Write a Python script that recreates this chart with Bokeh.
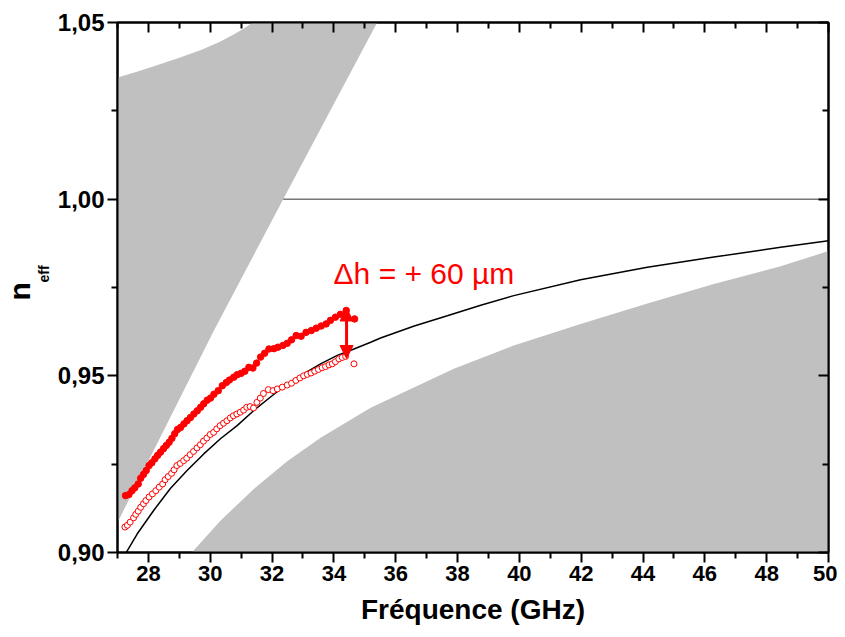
from bokeh.plotting import figure
from bokeh.models import (LinearAxis, FixedTicker, CustomJSTickFormatter, Label, Arrow,
                          NormalHead, Title)
from bokeh.embed import file_html
from bokeh.resources import INLINE

# ---------------- data ----------------
x_ticks = [28, 30, 32, 34, 36, 38, 40, 42, 44, 46, 48, 50]
x_minor = [27, 29, 31, 33, 35, 37, 39, 41, 43, 45, 47, 49]
y_ticks = [0.90, 0.95, 1.00, 1.05]
y_minor = [0.925, 0.975, 1.025]

# measured, h + 60 um (filled)
meas_up_f = [27.26, 27.37, 27.47, 27.56, 27.67, 27.75, 27.84, 27.93, 28.02, 28.11,
             28.21, 28.30, 28.39, 28.49, 28.58, 28.67, 28.76, 28.85, 28.94, 29.04,
             29.15, 29.25, 29.36, 29.47, 29.58, 29.69, 29.79, 29.90, 30.01, 30.12,
             30.26, 30.39, 30.52, 30.62, 30.76, 30.87, 31.00, 31.12, 31.25, 31.38,
             31.50, 31.63, 31.76, 31.90, 32.06, 32.19, 32.35, 32.49, 32.63, 32.78,
             32.94, 33.10, 33.27, 33.43, 33.59, 33.75, 33.89, 34.05, 34.21, 34.40,
             34.67]
meas_up_n = [0.9161, 0.9164, 0.9175, 0.9183, 0.9194, 0.9210, 0.9221, 0.9232, 0.9246, 0.9254,
             0.9265, 0.9275, 0.9284, 0.9294, 0.9303, 0.9312, 0.9323, 0.9336, 0.9348, 0.9354,
             0.9364, 0.9373, 0.9382, 0.9392, 0.9401, 0.9411, 0.9421, 0.9431, 0.9437, 0.9448,
             0.9458, 0.9472, 0.9481, 0.9488, 0.9496, 0.9503, 0.9507, 0.9513, 0.9524, 0.9522,
             0.9536, 0.9553, 0.9564, 0.9576, 0.9577, 0.9581, 0.9586, 0.9592, 0.9602, 0.9614,
             0.9612, 0.9623, 0.9628, 0.9635, 0.9641, 0.9647, 0.9657, 0.9666, 0.9674, 0.9685,
             0.9661]

# measured, reference height (open)
meas_ref_f = [27.24, 27.32, 27.41, 27.52, 27.59, 27.67, 27.75, 27.84, 27.92, 28.02,
              28.13, 28.24, 28.35, 28.46, 28.54, 28.64, 28.75, 28.83, 28.92, 29.03,
              29.14, 29.24, 29.35, 29.46, 29.57, 29.68, 29.78, 29.89, 30.00, 30.11,
              30.21, 30.32, 30.43, 30.54, 30.65, 30.75, 30.86, 30.97, 31.08, 31.18,
              31.29, 31.40, 31.51, 31.62, 31.72, 31.88, 32.03, 32.17, 32.33, 32.49,
              32.63, 32.77, 32.90, 33.02, 33.14, 33.26, 33.38, 33.50, 33.62, 33.73,
              33.84, 33.95, 34.05, 34.16, 34.27, 34.38, 34.65]
meas_ref_n = [0.9072, 0.9077, 0.9086, 0.9098, 0.9108, 0.9117, 0.9128, 0.9138, 0.9147, 0.9157,
              0.9166, 0.9175, 0.9185, 0.9194, 0.9206, 0.9215, 0.9224, 0.9234, 0.9246, 0.9252,
              0.9260, 0.9267, 0.9277, 0.9286, 0.9296, 0.9305, 0.9315, 0.9324, 0.9334, 0.9340,
              0.9350, 0.9359, 0.9366, 0.9373, 0.9381, 0.9387, 0.9392, 0.9397, 0.9403, 0.9411,
              0.9413, 0.9409, 0.9425, 0.9437, 0.9450, 0.9461, 0.9458, 0.9463, 0.9468, 0.9474,
              0.9479, 0.9487, 0.9494, 0.9500, 0.9504, 0.9508, 0.9513, 0.9518, 0.9523, 0.9526,
              0.9531, 0.9534, 0.9540, 0.9548, 0.9552, 0.9555, 0.9534]

# simulated dispersion curve
sim_f = [27.22, 27.29, 27.64, 28.17, 28.71, 29.25, 29.79, 30.33, 30.87, 31.41, 31.95,
         32.49, 33.03, 33.57, 34.11, 34.65, 35.19, 35.51, 36.60, 37.67, 38.75, 39.82,
         41.98, 44.14, 46.29, 48.45, 50.00]
sim_n = [0.8988, 0.9001, 0.9053, 0.9119, 0.9181, 0.9232, 0.9279, 0.9322, 0.9359, 0.9402, 0.9440,
         0.9477, 0.9506, 0.9534, 0.9558, 0.9576, 0.9595, 0.9607, 0.9641, 0.9670, 0.9700, 0.9727,
         0.9772, 0.9807, 0.9836, 0.9864, 0.9882]

# upper-left forbidden zone: top curve then light line
zone1_top_f = [27.00, 27.60, 28.30, 29.00, 29.70, 30.30, 30.80, 31.10, 31.37]
zone1_top_n = [1.0344, 1.0360, 1.0380, 1.0400, 1.0422, 1.0445, 1.0468, 1.0484, 1.0500]
light_f = [35.40, 32.36, 30.12, 27.00]
light_n = [1.0500, 1.0000, 0.9628, 0.9085]

# lower-right forbidden zone boundary
zone2_f = [29.30, 30.33, 31.41, 32.49, 33.57, 35.19, 37.88, 39.82, 41.98, 44.14, 46.29, 48.45, 50.00]
zone2_n = [0.8990, 0.9090, 0.9180, 0.9258, 0.9325, 0.9410, 0.9520, 0.9586, 0.9647, 0.9705,
           0.9760, 0.9810, 0.9853]
zone2_floor = 0.89

# horizontal n = 1 line
unity_f = [32.36, 50.00]
unity_n = [1.00, 1.00]

# annotation
arrow_f = 34.41
arrow_n = [0.9549, 0.9692]
note_text = "\u0394h = + 60 \u00b5m"
note_f, note_n = 33.99, 0.9790

FONT = "Liberation Sans"
RED = "#ff0000"
GRAY = "#c0c0c0"

p = figure(frame_width=711, frame_height=530, x_range=(27, 50), y_range=(0.90, 1.05),
           output_backend="svg", toolbar_location=None,
           min_border_left=117, min_border_right=9, min_border_top=22, min_border_bottom=82)
p.xgrid.visible = False
p.ygrid.visible = False
p.outline_line_color = "black"
p.outline_line_width = 2
p.background_fill_color = "white"

# gray zones
z1x = zone1_top_f + light_f
z1y = zone1_top_n + light_n
p.patch(z1x, z1y, fill_color=GRAY, line_color=None)
z2x = zone2_f + [zone2_f[-1], zone2_f[0]]
z2y = zone2_n + [zone2_floor, zone2_floor]
p.patch(z2x, z2y, fill_color=GRAY, line_color=None)

p.line(unity_f, unity_n, line_color="#333333", line_width=1)
p.line(sim_f, sim_n, line_color="black", line_width=1.5)

p.scatter(meas_ref_f, meas_ref_n, marker="circle", size=6, fill_color="white",
          line_color=RED, line_width=1)
p.scatter(meas_up_f, meas_up_n, marker="circle", size=6.5, fill_color=RED, line_color=RED)

p.add_layout(Arrow(x_start=arrow_f, y_start=arrow_n[0], x_end=arrow_f, y_end=arrow_n[1],
                   line_color=RED, line_width=3,
                   start=NormalHead(size=13, fill_color=RED, line_color=RED),
                   end=NormalHead(size=13, fill_color=RED, line_color=RED)))
p.add_layout(Label(x=note_f, y=note_n, text=note_text, text_color=RED, text_font=FONT,
                   text_font_size="30px", text_baseline="alphabetic", text_align="left"))

# axes
fmt = CustomJSTickFormatter(code="return tick.toFixed(2).replace('.', ',');")
blank = CustomJSTickFormatter(code="return '';")
xt = FixedTicker(ticks=x_ticks, minor_ticks=x_minor)
yt = FixedTicker(ticks=y_ticks, minor_ticks=y_minor)

xa = p.xaxis[0]
xa.ticker = xt
xa.axis_label = "Fréquence (GHz)"
ya = p.yaxis[0]
ya.ticker = yt
ya.formatter = fmt

for ax in (xa, ya):
    ax.axis_line_width = 2
    ax.major_tick_line_width = 2
    ax.minor_tick_line_width = 2
    ax.major_tick_in = 0
    ax.major_tick_out = 10
    ax.minor_tick_in = 0
    ax.minor_tick_out = 6
    ax.major_label_text_font = FONT
    ax.major_label_text_font_style = "bold"
    ax.major_label_text_color = "black"
    ax.axis_label_text_font = FONT
    ax.axis_label_text_font_style = "bold"
    ax.axis_label_text_font_size = "28px"
    ax.axis_label_text_color = "black"
xa.major_label_text_font_size = "22px"
ya.major_label_text_font_size = "24px"
xa.major_label_standoff = 3
xa.axis_label_standoff = 10
ya.major_label_standoff = 3

top = LinearAxis(ticker=xt, formatter=blank)
right = LinearAxis(ticker=yt, formatter=blank)
for ax in (top, right):
    ax.axis_line_width = 2
    ax.major_tick_line_width = 2
    ax.minor_tick_line_width = 2
    ax.major_tick_in = 10
    ax.major_tick_out = 0
    ax.minor_tick_in = 6
    ax.minor_tick_out = 0
    ax.major_label_standoff = 0
p.add_layout(top, "above")
p.add_layout(right, "right")

# y axis title n_eff as two side titles
t_eff = Title(text="eff", align="left", offset=270, standoff=5, text_font=FONT,
              text_font_style="bold", text_font_size="14px", text_color="black")
t_n = Title(text="n", align="left", offset=252, standoff=-8, text_font=FONT,
            text_font_style="bold", text_font_size="30px", text_color="black")
p.add_layout(t_eff, "left")
p.add_layout(t_n, "left")

open("out.html", "w").write(file_html(p, INLINE))
